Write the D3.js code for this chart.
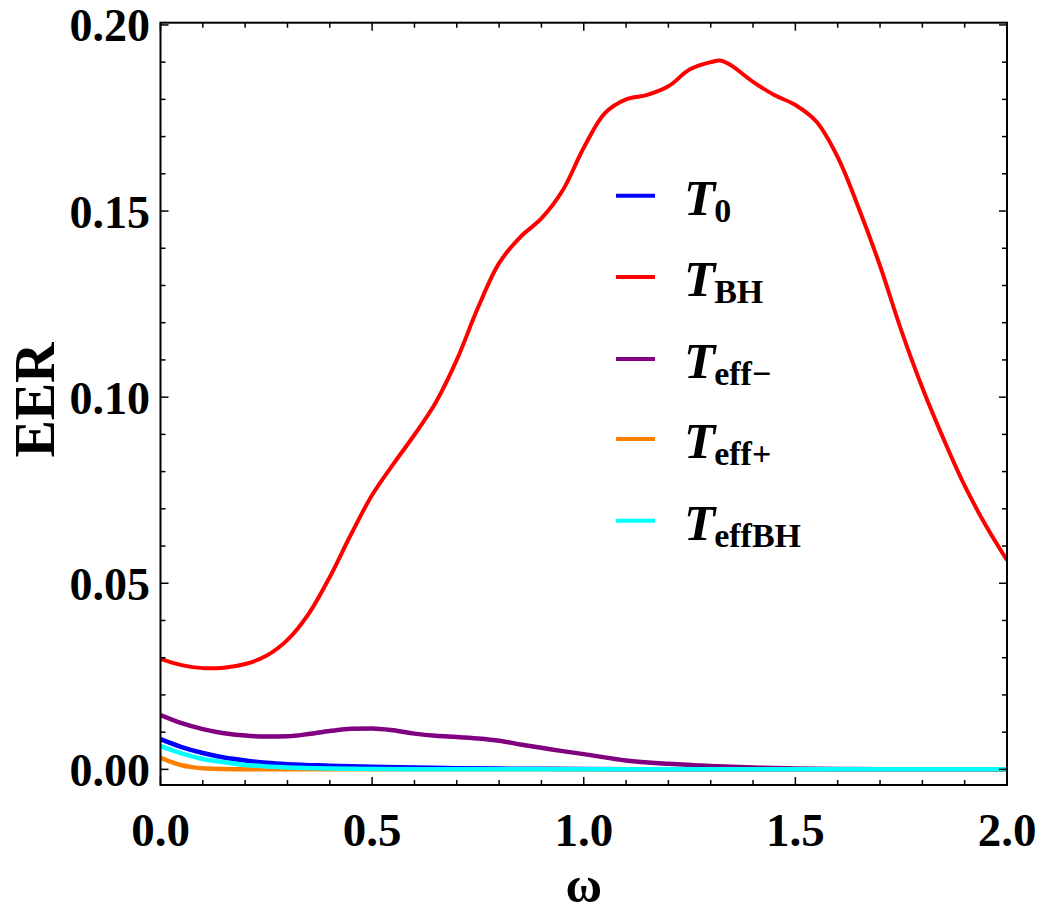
<!DOCTYPE html>
<html><head><meta charset="utf-8">
<script src="https://cdn.jsdelivr.net/npm/d3@7"></script>
<style>body{margin:0;background:#fff}svg{display:block}</style>
</head><body>
<script>
const omegaBH = [0,0.05,0.1,0.15,0.2,0.25,0.3,0.35,0.4,0.45,0.5,0.55,0.6,0.65,0.7,0.75,0.8,0.85,0.9,0.95,1.0,1.05,1.1,1.15,1.2,1.25,1.3,1.325,1.35,1.4,1.45,1.5,1.55,1.6,1.65,1.7,1.75,1.8,1.85,1.9,1.95,2.0];
const eerBH = [0.0297,0.0280,0.0272,0.0273,0.0283,0.0305,0.0348,0.0418,0.0517,0.0631,0.0737,0.0820,0.0899,0.0985,0.110,0.124,0.136,0.1430,0.148,0.1555,0.167,0.1763,0.1800,0.1812,0.1835,0.1880,0.1900,0.1904,0.1890,0.1847,0.1812,0.1785,0.1740,0.1645,0.1507,0.1353,0.1180,0.1025,0.0888,0.0762,0.0655,0.0562];
const omegaMinus = [0,0.05,0.1,0.15,0.2,0.25,0.3,0.35,0.4,0.45,0.5,0.55,0.6,0.65,0.7,0.75,0.8,0.85,0.9,0.95,1.0,1.1,1.2,1.3,1.4,1.5,1.6,1.7,1.8,2.0];
const eerMinus = [0.0146,0.0124,0.0108,0.0097,0.0091,0.0088,0.0089,0.0095,0.0103,0.0109,0.0110,0.0105,0.0096,0.0090,0.0087,0.0083,0.0077,0.0067,0.0058,0.0049,0.0041,0.0024,0.0015,0.0009,0.0005,0.0002,0.0001,0.00004,0.00001,0];
const omega0 = [0,0.05,0.1,0.15,0.2,0.25,0.3,0.4,0.5,0.6,0.7,0.8,1.0,1.2,2.0];
const eer0 = [0.0081,0.0060,0.0044,0.0032,0.0024,0.0018,0.0014,0.0010,0.0007,0.0005,0.0003,0.0002,0.0001,0.00003,0];
const omegaPlus = [0,0.025,0.05,0.075,0.1,0.15,0.2,2.0];
const eerPlus = [0.0032,0.0020,0.0011,0.0006,0.0003,0.0001,0.00003,0];
const omegaEffBH = [0,0.05,0.1,0.15,0.2,0.25,0.3,0.4,0.5,0.7,2.0];
const eerEffBH = [0.0063,0.0043,0.0028,0.0019,0.0012,0.0008,0.0005,0.0002,0.0001,0.00003,0];

const seriesNames = ["0","BH","eff\u2212","eff+","effBH"];
const seriesColors = ["#0000ff","#ff0000","#800080","#ff8000","#00ffff"];
const xTicks = [0,0.5,1.0,1.5,2.0];
const yTicks = [0,0.05,0.10,0.15,0.20];

const W=1042,H=915;
const L=160.5,R=1007,T=22.7,B=785;
const svg=d3.select("body").append("svg").attr("width",W).attr("height",H);
const x=d3.scaleLinear().domain([0,2]).range([L,R]);
const y=d3.scaleLinear().domain([-0.0042,0.2006]).range([B,T]);

const font="'Liberation Serif','Times New Roman',serif";

svg.append("clipPath").attr("id","clip").append("rect").attr("x",L).attr("y",T).attr("width",R-L).attr("height",B-T);

const series=[
 {w:omega0,v:eer0},
 {w:omegaBH,v:eerBH},
 {w:omegaMinus,v:eerMinus},
 {w:omegaPlus,v:eerPlus},
 {w:omegaEffBH,v:eerEffBH}
];
const lineSmooth=d3.line().x(d=>x(d[0])).y(d=>y(d[1])).curve(d3.curveMonotoneX);
const lineRed=d3.line().x(d=>x(d[0])).y(d=>y(d[1])).curve(d3.curveCatmullRom.alpha(0.5));
const g=svg.append("g").attr("clip-path","url(#clip)");
series.forEach((s,i)=>{
  const pts=s.w.map((w,j)=>[w,s.v[j]]);
  g.append("path").attr("d",(i===1?lineRed:lineSmooth)(pts)).attr("fill","none")
   .attr("stroke",seriesColors[i]).attr("stroke-width",i===1?4:4.5).attr("stroke-linejoin","round");
});

svg.append("rect").attr("x",L).attr("y",T).attr("width",R-L).attr("height",B-T).attr("fill","none").attr("stroke","#000").attr("stroke-width",2);

const tk=svg.append("g").attr("stroke","#000").attr("stroke-width",1.5);
d3.range(0,2.0001,0.1).forEach((v,i)=>{
  const major=i%5===0, len=major?8:5, px=x(v);
  tk.append("line").attr("x1",px).attr("x2",px).attr("y1",B).attr("y2",B-len);
  tk.append("line").attr("x1",px).attr("x2",px).attr("y1",T).attr("y2",T+len);
});
d3.range(0,0.2001,0.01).forEach((v,i)=>{
  const major=i%5===0, len=major?8:5, py=y(v);
  tk.append("line").attr("y1",py).attr("y2",py).attr("x1",L).attr("x2",L+len);
  tk.append("line").attr("y1",py).attr("y2",py).attr("x1",R).attr("x2",R-len);
});

svg.selectAll(".xl").data(xTicks).enter().append("text")
 .attr("x",d=>x(d)).attr("y",846).attr("text-anchor","middle")
 .attr("font-family",font).attr("font-weight","bold").attr("font-size",47)
 .text(d=>d.toFixed(1));
svg.selectAll(".yl").data(yTicks).enter().append("text")
 .attr("x",150).attr("y",d=>y(d)).attr("dy","0.36em").attr("text-anchor","end")
 .attr("font-family",font).attr("font-weight","bold").attr("font-size",46)
 .text(d=>d.toFixed(2));

svg.append("text").attr("x",(L+R)/2).attr("y",902).attr("text-anchor","middle")
 .attr("font-family",font).attr("font-weight","bold").attr("font-size",50).text("\u03c9");
svg.append("text").attr("transform","translate(54,400) rotate(-90)").attr("text-anchor","middle")
 .attr("font-family",font).attr("font-weight","bold").attr("font-size",56).text("EER");

const legY=[195.7,277,359,439,520.7];
seriesNames.forEach((n,i)=>{
  svg.append("line").attr("x1",616).attr("x2",655).attr("y1",legY[i]).attr("y2",legY[i])
   .attr("stroke",seriesColors[i]).attr("stroke-width",4);
  const t=svg.append("text").attr("x",684).attr("y",legY[i]+19).attr("font-family",font).attr("font-weight","bold");
  t.append("tspan").attr("font-style","italic").attr("font-size",51).text("T");
  t.append("tspan").attr("font-size",34).attr("dy",7).attr("dx",-1).text(n);
});
</script>
</body></html>
